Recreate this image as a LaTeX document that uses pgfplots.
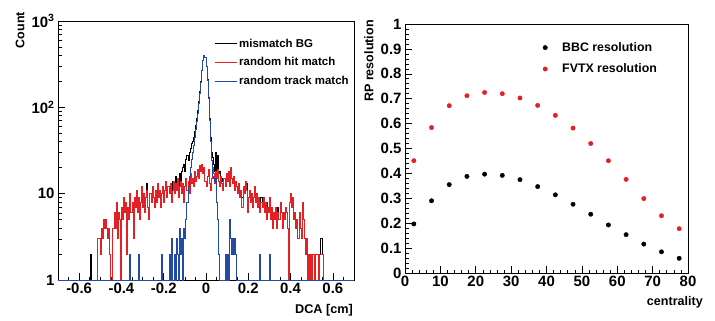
\documentclass[border=0pt]{standalone}
\usepackage{pgfplots}
\pgfplotsset{compat=1.18}
\usepackage{fontspec}
\setmainfont{Liberation Sans}
\definecolor{hred}{RGB}{228,32,36}
\definecolor{hblue}{RGB}{35,75,165}
\pgfplotsset{markleg/.style={legend image code/.code={\draw[##1,/tikz/only marks] plot coordinates {(7bp,0bp)}; \path[draw=none,fill=none] (0bp,0bp) (22bp,0bp);}}}
\begin{document}
\begin{tikzpicture}[x=1bp,y=1bp]
\useasboundingbox (0,0) rectangle (715,320);
\pgfplotsset{
  rootstyle/.style={
    scale only axis, anchor=south west,
    axis line style={line width=0.9pt},
    tick align=inside, xtick pos=bottom, ytick pos=left,
    major tick length=7bp, minor tick length=3.5bp,
    every tick/.style={black, line width=0.6pt},
    tick label style={font=\fontsize{15}{15}\selectfont\bfseries},
    /pgf/number format/assume math mode=true,
    clip=true,
  }
}
\begin{axis}[rootstyle,
  at={(58bp,40bp)}, width=296bp, height=259bp,
  xmin=-0.7, xmax=0.7, ymode=log, ymin=1, ymax=1000,
  xtick={-0.6,-0.4,-0.2,0,0.2,0.4,0.6},
  xticklabels={-0.6,-0.4,-0.2,0,0.2,0.4,0.6},
  minor xtick={-0.65,-0.55,-0.5,-0.45,-0.35,-0.3,-0.25,-0.15,-0.1,-0.05,0.05,0.1,0.15,0.25,0.3,0.35,0.45,0.5,0.55,0.65},
  ytick={1,10,100,1000},
  yticklabels={1,10,10\textsuperscript{2},10\textsuperscript{3}},
  legend style={at={(rel axis cs:0.527,0.94)}, anchor=north west, draw=none, fill=none,
    font=\fontsize{11.5}{12}\selectfont\bfseries, row sep=5bp, inner sep=0pt},
  legend cell align=left,
  legend image code/.code={\draw[#1] (0bp,0bp)--(22bp,0bp);},
]
% mismatch BG (black)
\addplot[black, line width=1pt, const plot mark left] coordinates {
(-0.700,1)(-0.545,2)(-0.540,1)(-0.515,3)(-0.500,2)(-0.495,4)(-0.490,3)(-0.485,5)(-0.480,4)(-0.475,5)
(-0.470,4)(-0.465,3)(-0.460,4)(-0.455,2)(-0.450,1)(-0.440,4)(-0.435,6)(-0.430,4)(-0.425,8)(-0.420,3)
(-0.415,6)(-0.410,5)(-0.405,1)(-0.400,7)(-0.395,5)(-0.390,9)(-0.385,6)(-0.380,8)(-0.375,2)(-0.370,7)
(-0.365,5)(-0.360,10)(-0.355,6)(-0.350,8)(-0.345,3)(-0.340,9)(-0.335,7)(-0.330,11)(-0.325,6)(-0.320,9)
(-0.315,5)(-0.310,8)(-0.305,12)(-0.300,7)(-0.295,10)(-0.290,6)(-0.285,9)(-0.280,13)(-0.275,7)(-0.270,5)
(-0.265,10)(-0.260,8)(-0.255,12)(-0.250,9)(-0.245,7)(-0.240,11)(-0.235,8)(-0.230,13)(-0.225,9)(-0.220,11)
(-0.215,7)(-0.210,10)(-0.205,12)(-0.200,8)(-0.195,11)(-0.190,14)(-0.185,9)(-0.180,12)(-0.175,10)(-0.170,13)
(-0.165,8)(-0.160,14)(-0.155,14)(-0.150,10)(-0.145,16)(-0.140,11)(-0.135,15)(-0.130,9)(-0.125,17)(-0.120,14)
(-0.115,18)(-0.110,20)(-0.105,22)(-0.100,18)(-0.095,25)(-0.090,28)(-0.085,24)(-0.080,30)(-0.075,33)(-0.070,38)
(-0.065,40)(-0.060,45)(-0.055,52)(-0.050,62)(-0.045,75)(-0.040,92)(-0.035,118)(-0.030,152)(-0.025,200)(-0.020,270)
(-0.015,350)(-0.010,400)(-0.005,380)(0.000,300)(0.005,210)(0.010,130)(0.015,75)(0.020,45)(0.025,30)(0.030,26)
(0.035,22)(0.040,18)(0.045,30)(0.050,16)(0.055,28)(0.060,17)(0.065,18)(0.070,16)(0.075,15)(0.080,14)
(0.085,15)(0.090,13)(0.095,17)(0.100,15)(0.105,18)(0.110,12)(0.115,20)(0.120,15)(0.125,13)(0.130,16)
(0.135,11)(0.140,14)(0.145,12)(0.150,10)(0.155,13)(0.160,9)(0.165,11)(0.170,9)(0.175,12)(0.180,10)
(0.185,14)(0.190,13)(0.195,6)(0.200,9)(0.205,11)(0.210,8)(0.215,10)(0.220,7)(0.225,9)(0.230,12)
(0.235,8)(0.240,10)(0.245,7)(0.250,9)(0.255,6)(0.260,9)(0.265,7)(0.270,9)(0.275,6)(0.280,8)
(0.285,8)(0.290,7)(0.295,6)(0.300,9)(0.305,5)(0.310,7)(0.315,4)(0.320,6)(0.325,5)(0.330,7)
(0.335,4)(0.340,7)(0.345,5)(0.350,8)(0.355,6)(0.360,4)(0.365,6)(0.370,5)(0.375,7)(0.380,6)
(0.385,4)(0.390,1)(0.395,8)(0.400,10)(0.405,7)(0.410,9)(0.415,5)(0.420,6)(0.425,4)(0.430,5)
(0.435,3)(0.440,6)(0.445,4)(0.450,3)(0.455,8)(0.460,5)(0.465,3)(0.470,2)(0.475,3)(0.480,1)
(0.485,2)(0.490,1)(0.495,2)(0.500,1)(0.505,2)(0.515,1)(0.520,2)(0.530,1)(0.535,2)(0.540,3)
(0.550,2)(0.555,1)(0.700,1)
};
\addlegendentry{mismatch BG}
% random hit match (red)
\addplot[hred, line width=1pt, const plot mark left] coordinates {
(-0.700,1)(-0.515,3)(-0.500,2)(-0.495,4)(-0.490,3)(-0.485,5)(-0.480,4)(-0.475,5)
(-0.470,4)(-0.465,3)(-0.460,4)(-0.455,2)(-0.450,1)(-0.440,4)(-0.435,6)(-0.430,4)(-0.425,8)(-0.420,3)
(-0.415,6)(-0.410,5)(-0.405,1)(-0.400,7)(-0.395,5)(-0.390,9)(-0.385,6)(-0.380,8)(-0.375,2)(-0.370,7)
(-0.365,5)(-0.360,10)(-0.355,6)(-0.350,8)(-0.345,3)(-0.340,9)(-0.335,7)(-0.330,11)(-0.325,6)(-0.320,9)
(-0.315,5)(-0.310,8)(-0.305,12)(-0.300,7)(-0.295,10)(-0.290,6)(-0.285,9)(-0.280,11)(-0.275,7)(-0.270,5)
(-0.265,10)(-0.260,8)(-0.255,12)(-0.250,9)(-0.245,7)(-0.240,11)(-0.235,8)(-0.230,13)(-0.225,9)(-0.220,11)
(-0.215,7)(-0.210,10)(-0.205,12)(-0.200,8)(-0.195,11)(-0.190,14)(-0.185,9)(-0.180,12)(-0.175,10)(-0.170,13)
(-0.165,8)(-0.160,11)(-0.155,14)(-0.150,10)(-0.145,13)(-0.140,11)(-0.135,15)(-0.130,9)(-0.125,12)(-0.120,14)
(-0.115,10)(-0.110,13)(-0.105,8)(-0.100,12)(-0.095,15)(-0.090,11)(-0.085,14)(-0.080,10)(-0.075,17)(-0.070,13)
(-0.065,15)(-0.060,12)(-0.055,18)(-0.050,14)(-0.045,16)(-0.040,19)(-0.035,15)(-0.030,21)(-0.025,18)(-0.020,22)
(-0.015,17)(-0.010,20)(-0.005,14)(0.000,12)(0.005,16)(0.010,19)(0.015,13)(0.020,11)(0.025,15)(0.030,20)
(0.035,17)(0.040,13)(0.045,18)(0.050,15)(0.055,19)(0.060,14)(0.065,12)(0.070,16)(0.075,13)(0.080,11)
(0.085,15)(0.090,12)(0.095,17)(0.100,14)(0.105,18)(0.110,12)(0.115,20)(0.120,15)(0.125,13)(0.130,16)
(0.135,11)(0.140,14)(0.145,12)(0.150,10)(0.155,13)(0.160,9)(0.165,11)(0.170,7)(0.175,12)(0.180,10)
(0.185,14)(0.190,11)(0.195,6)(0.200,9)(0.205,11)(0.210,8)(0.215,10)(0.220,7)(0.225,9)(0.230,12)
(0.235,8)(0.240,10)(0.245,7)(0.250,9)(0.255,6)(0.260,8)(0.265,7)(0.270,9)(0.275,6)(0.280,8)
(0.285,5)(0.290,7)(0.295,6)(0.300,9)(0.305,5)(0.310,7)(0.315,4)(0.320,6)(0.325,5)(0.330,7)
(0.335,4)(0.340,6)(0.345,5)(0.350,8)(0.355,6)(0.360,4)(0.365,6)(0.370,5)(0.375,7)(0.380,6)
(0.385,4)(0.390,1)(0.395,8)(0.400,10)(0.405,7)(0.410,9)(0.415,5)(0.420,6)(0.425,4)(0.430,5)
(0.435,3)(0.440,6)(0.445,4)(0.450,3)(0.455,8)(0.460,5)(0.465,3)(0.470,2)(0.475,3)(0.480,1)
(0.485,2)(0.490,1)(0.495,2)(0.500,1)(0.505,2)(0.515,1)(0.520,2)(0.530,1)(0.535,2)(0.555,1)(0.700,1)
};
\addlegendentry{random hit match}
% random track match (blue)
\addplot[hblue, line width=1pt, const plot mark left] coordinates {
(-0.700,1)(-0.360,2)(-0.355,1)(-0.320,2)(-0.315,1)(-0.210,2)(-0.205,1)(-0.175,2)(-0.170,1)
(-0.165,3)(-0.160,1)(-0.150,2)(-0.145,1)(-0.140,3)(-0.135,2)(-0.130,1)(-0.125,4)(-0.120,2)
(-0.115,3)(-0.110,1)(-0.105,4)(-0.100,3)(-0.095,5)
(-0.090,8)(-0.085,12)(-0.080,16)(-0.075,20)(-0.070,25)(-0.065,30)(-0.060,36)(-0.055,45)(-0.050,55)(-0.045,68)
(-0.040,85)(-0.035,110)(-0.030,145)(-0.025,195)(-0.020,265)(-0.015,345)(-0.010,395)(-0.005,375)(0.000,295)
(0.005,205)(0.010,125)(0.015,70)(0.020,40)(0.025,24)(0.030,16)(0.035,15)(0.040,14)(0.045,15)(0.050,8)
(0.055,5)(0.060,2)(0.065,1)
(0.090,2)(0.095,1)(0.100,2)(0.105,1)(0.110,5)(0.115,3)(0.120,2)(0.125,3)(0.130,2)(0.135,3)(0.140,2)
(0.145,1)(0.255,2)(0.260,1)(0.300,2)(0.305,1)(0.700,1)
};
\addlegendentry{random track match}
\end{axis}

\begin{axis}[rootstyle,
  at={(405bp,47bp)}, width=283bp, height=249bp,
  xmin=0, xmax=80, ymin=0, ymax=1,
  xtick={0,10,20,30,40,50,60,70,80}, minor x tick num=4,
  ytick={0,0.1,0.2,0.3,0.4,0.5,0.6,0.7,0.8,0.9,1},
  yticklabels={0,0.1,0.2,0.3,0.4,0.5,0.6,0.7,0.8,0.9,1},
  minor y tick num=4,
  legend style={at={(rel axis cs:0.47,0.935)}, anchor=north west, draw=none, fill=none,
    font=\fontsize{12.4}{13}\selectfont\bfseries, row sep=7bp, inner sep=0pt},
  legend cell align=left,
]
\addplot[only marks, mark=*, mark size=2.2bp, black, markleg] coordinates {
(2.5,0.197)(7.5,0.290)(12.5,0.355)(17.5,0.388)(22.5,0.397)(27.5,0.392)(32.5,0.375)(37.5,0.347)
(42.5,0.314)(47.5,0.276)(52.5,0.236)(57.5,0.193)(62.5,0.154)(67.5,0.116)(72.5,0.085)(77.5,0.059)
};
\addlegendentry{BBC resolution}
\addplot[only marks, mark=*, mark size=2.2bp, hred, mark options={draw=hred, fill=hred}, markleg] coordinates {
(2.5,0.451)(7.5,0.584)(12.5,0.672)(17.5,0.712)(22.5,0.725)(27.5,0.720)(32.5,0.703)(37.5,0.673)
(42.5,0.633)(47.5,0.582)(52.5,0.520)(57.5,0.451)(62.5,0.376)(67.5,0.299)(72.5,0.230)(77.5,0.178)
};
\addlegendentry{FVTX resolution}
\end{axis}

\node[rotate=90, anchor=east, inner sep=0pt, font=\fontsize{12.5}{13}\selectfont\bfseries] at (20,308) {Count};
\node[anchor=east, inner sep=0pt, font=\fontsize{12.7}{13}\selectfont\bfseries] at (353,10) {DCA [cm]};
\node[rotate=90, anchor=east, inner sep=0pt, font=\fontsize{12.6}{13}\selectfont\bfseries] at (369,300) {RP resolution};
\node[anchor=east, inner sep=0pt, font=\fontsize{12.6}{13}\selectfont\bfseries] at (703,18) {centrality};
\end{tikzpicture}
\end{document}
